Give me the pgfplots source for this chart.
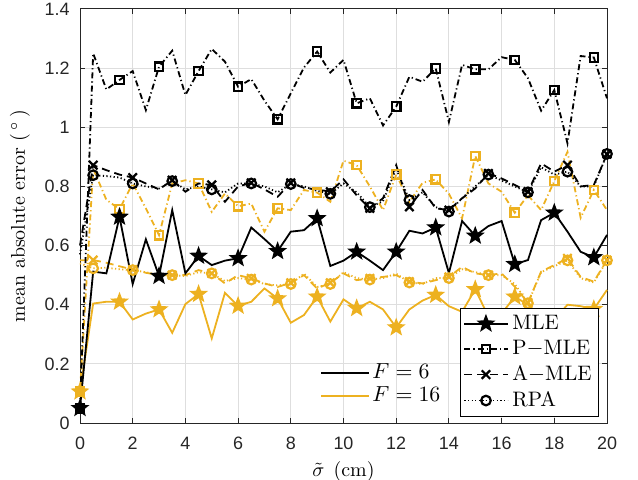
\documentclass[border=0pt]{standalone}
\usepackage{fontspec}
\setsansfont{Liberation Sans}
\usepackage{pgfplots}
\usepackage{pgfplotstable}
\pgfplotsset{compat=1.18}

\definecolor{myyel}{rgb}{0.929,0.694,0.125}
\definecolor{axgray}{rgb}{0.15,0.15,0.15}

% filled five-pointed star (MATLAB pentagram)
\pgfdeclareplotmark{pentagram}{%
  \pgfpathmoveto{\pgfpointpolar{90}{\pgfplotmarksize}}%
  \pgfpathlineto{\pgfpointpolar{126}{0.42\pgfplotmarksize}}%
  \pgfpathlineto{\pgfpointpolar{162}{\pgfplotmarksize}}%
  \pgfpathlineto{\pgfpointpolar{198}{0.42\pgfplotmarksize}}%
  \pgfpathlineto{\pgfpointpolar{234}{\pgfplotmarksize}}%
  \pgfpathlineto{\pgfpointpolar{270}{0.42\pgfplotmarksize}}%
  \pgfpathlineto{\pgfpointpolar{306}{\pgfplotmarksize}}%
  \pgfpathlineto{\pgfpointpolar{342}{0.42\pgfplotmarksize}}%
  \pgfpathlineto{\pgfpointpolar{18}{\pgfplotmarksize}}%
  \pgfpathlineto{\pgfpointpolar{54}{0.42\pgfplotmarksize}}%
  \pgfpathclose
  \pgfusepathqfillstroke}

% columns: sigma, F=6 (b*) and F=16 (y*)
\pgfplotstableread{
x    bMLE  bPMLE bAMLE bRPA  yMLE  yPMLE yAMLE yRPA
0    0.050 0.050 0.600 0.570 0.106 0.106 0.550 0.540
0.5  0.512 1.250 0.872 0.838 0.404 0.860 0.551 0.523
1    0.506 1.128 0.855 0.835 0.410 0.755 0.542 0.525
1.5  0.697 1.160 0.840 0.830 0.410 0.723 0.530 0.520
2    0.470 1.190 0.830 0.810 0.350 0.810 0.519 0.517
2.5  0.621 1.058 0.810 0.800 0.370 0.726 0.508 0.510
3    0.497 1.205 0.790 0.793 0.384 0.635 0.500 0.500
3.5  0.720 1.259 0.821 0.818 0.305 0.810 0.500 0.500
4    0.506 1.109 0.782 0.790 0.402 0.821 0.500 0.497
4.5  0.565 1.190 0.810 0.800 0.436 0.810 0.517 0.510
5    0.534 1.265 0.805 0.790 0.286 0.714 0.506 0.506
5.5  0.549 1.222 0.748 0.780 0.440 0.776 0.472 0.480
6    0.557 1.137 0.800 0.810 0.396 0.733 0.500 0.490
6.5  0.661 1.163 0.812 0.810 0.410 0.742 0.489 0.485
7    0.622 1.090 0.790 0.800 0.455 0.647 0.472 0.470
7.5  0.581 1.027 0.765 0.780 0.421 0.726 0.460 0.465
8    0.647 1.115 0.812 0.808 0.339 0.720 0.474 0.470
8.5  0.652 1.202 0.795 0.800 0.365 0.788 0.500 0.505
9    0.692 1.256 0.790 0.785 0.427 0.779 0.455 0.460
9.5  0.531 1.185 0.782 0.775 0.343 0.748 0.474 0.470
10   0.549 1.228 0.824 0.810 0.418 0.887 0.506 0.510
10.5 0.579 1.081 0.770 0.780 0.388 0.872 0.483 0.490
11   0.549 1.098 0.726 0.730 0.410 0.800 0.489 0.485
11.5 0.517 1.006 0.760 0.750 0.384 0.720 0.494 0.490
12   0.579 1.070 0.872 0.860 0.323 0.840 0.500 0.505
12.5 0.650 1.171 0.731 0.754 0.384 0.748 0.478 0.475
13   0.641 1.154 0.788 0.780 0.414 0.812 0.472 0.470
13.5 0.661 1.199 0.726 0.730 0.433 0.824 0.483 0.490
14   0.507 1.018 0.720 0.715 0.395 0.775 0.494 0.490
14.5 0.683 1.211 0.760 0.760 0.376 0.692 0.528 0.520
15   0.633 1.196 0.793 0.800 0.452 0.903 0.506 0.510
15.5 0.666 1.196 0.844 0.840 0.360 0.810 0.500 0.500
16   0.683 1.237 0.827 0.820 0.370 0.782 0.506 0.500
16.5 0.537 1.228 0.805 0.800 0.427 0.711 0.461 0.470
17   0.551 1.166 0.782 0.780 0.400 0.770 0.407 0.405
17.5 0.686 1.056 0.878 0.865 0.360 0.720 0.512 0.510
18   0.711 1.126 0.850 0.840 0.350 0.818 0.534 0.530
18.5 0.647 0.946 0.872 0.850 0.400 0.917 0.557 0.550
19   0.579 1.241 0.800 0.800 0.395 0.694 0.494 0.490
19.5 0.560 1.236 0.805 0.800 0.385 0.788 0.478 0.475
20   0.636 1.098 0.909 0.910 0.450 0.720 0.551 0.550
}\datatable

\tikzset{mk/.style={solid, line width=1.1bp}}

\pgfplotsset{
  mle/.style={solid, line width=0.9bp, mark=pentagram, mark size=3.4bp,
    mark repeat=3, mark phase=1},
  pmle/.style={line width=0.9bp, dash pattern=on 3bp off 1.5bp on 0.6bp off 1.5bp,
    mark=square, mark size=2.1bp, mark repeat=3, mark phase=1},
  amle/.style={line width=0.9bp, dash pattern=on 4bp off 2.5bp,
    mark=x, mark size=3bp, mark repeat=3, mark phase=2},
  rpa/.style={line width=0.9bp, dash pattern=on 0.6bp off 1.2bp,
    mark=o, mark size=2.4bp, mark repeat=3, mark phase=2},
}

\begin{document}
\begin{tikzpicture}
\begin{axis}[
    name=ax,
    scale only axis,
    width=263.5bp,
    height=207bp,
    xmin=0, xmax=20,
    ymin=0, ymax=1.4,
    clip=false,
    xtick={0,2,4,6,8,10,12,14,16,18,20},
    ytick={0,0.2,0.4,0.6,0.8,1,1.2,1.4},
    yticklabels={0,0.2,0.4,0.6,0.8,1,1.2,1.4},
    tick align=inside,
    xtick pos=both, ytick pos=both,
    major tick length=2.5bp,
    grid=major,
    grid style={color=black!13, line width=0.5bp},
    axis line style={color=axgray, line width=0.5bp},
    tick style={color=axgray, line width=0.5bp},
    /pgf/number format/assume math mode=true,
    ticklabel style={font=\fontsize{9}{10}\sffamily, text=axgray, inner sep=0pt},
    xticklabel style={yshift=-6.8bp},
    yticklabel style={xshift=-5bp},
    xlabel={$\tilde{\sigma}$\hspace{4.5bp}(cm)},
    ylabel={mean absolute error (\,$^\circ$\,)},
    label style={font=\fontsize{10}{12}\selectfont},
    xlabel style={at={(axis description cs:0.5,-0.116)}, anchor=center, inner sep=0pt},
    ylabel style={at={(axis description cs:-0.114,0.5)}, anchor=center, inner sep=0pt},
    legend cell align=left,
    legend style={at={(0.985,0.0145)}, anchor=south east,
      draw=black, line width=0.5bp, fill=white,
      font=\fontsize{10.5}{12}\selectfont,
      inner sep=1.5bp, row sep=0pt},
    legend image code/.code={%
      \draw[mark repeat=2, mark phase=2, #1]
        plot coordinates {(0bp,0bp) (10.8bp,0bp) (21.6bp,0bp)};},
]
% F = 16
\addplot[myyel, mle, mark options={mk, fill=myyel}, forget plot] table[x=x, y=yMLE] {\datatable};
\addplot[myyel, pmle, mark options={mk}, forget plot] table[x=x, y=yPMLE] {\datatable};
\addplot[myyel, amle, mark options={mk}, forget plot] table[x=x, y=yAMLE] {\datatable};
\addplot[myyel, rpa, mark options={mk}, forget plot] table[x=x, y=yRPA] {\datatable};
% F = 6
\addplot[black, mle, mark options={mk, fill=black}] table[x=x, y=bMLE] {\datatable};
\addlegendentry{MLE}
\addplot[black, pmle, mark options={mk}] table[x=x, y=bPMLE] {\datatable};
\addlegendentry{P$-$MLE}
\addplot[black, amle, mark options={mk}] table[x=x, y=bAMLE] {\datatable};
\addlegendentry{A$-$MLE}
\addplot[black, rpa, mark options={mk}] table[x=x, y=bRPA] {\datatable};
\addlegendentry{RPA}
\end{axis}

\begin{axis}[
    at={(ax.south west)}, anchor=south west,
    scale only axis,
    width=263.5bp,
    height=207bp,
    xmin=0, xmax=1, ymin=0, ymax=1,
    hide axis,
    legend cell align=left,
    legend style={at={(0.4516,0.0937)}, anchor=west,
      draw=none, fill=none,
      font=\fontsize{10.8}{12}\selectfont,
      nodes={inner sep=1.2bp},
      inner sep=1bp, row sep=0pt},
    legend image code/.code={%
      \draw[#1] (0bp,0bp) -- (23.8bp,0bp);},
]
\addlegendimage{black, solid, line width=1bp}
\addlegendentry{$F=6$}
\addlegendimage{myyel, solid, line width=1bp}
\addlegendentry{$F=16$}
\end{axis}

\pgfresetboundingbox
\path (-40bp,-28.5bp) rectangle (279bp,211.5bp);
\end{tikzpicture}
\end{document}
